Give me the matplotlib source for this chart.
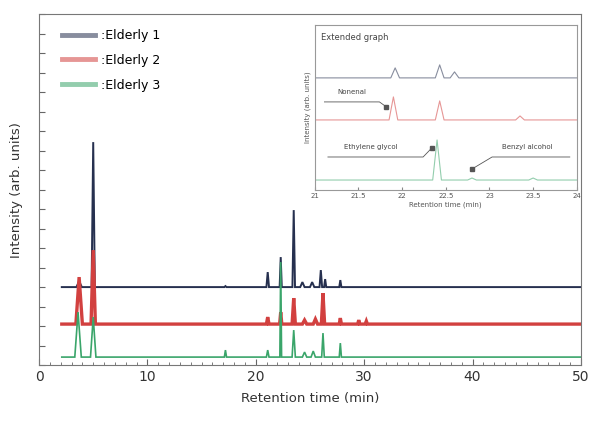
import numpy as np
import matplotlib
matplotlib.use("Agg")
import matplotlib.pyplot as plt
from matplotlib.ticker import MultipleLocator

# ---- data (intensity in arb. units) ----
labels = [":Elderly 1", ":Elderly 2", ":Elderly 3"]
colors = ["#26304f", "#d2403f", "#3aa56a"]
baselines = [78, 41, 8]
t_start, t_end = 2.1, 50.0

# main chromatogram peaks: retention time (min), height above baseline, half width (min)
e1_rt = [3.7, 5.0, 17.2, 21.1, 22.3, 23.5, 24.3, 25.2, 26.0, 26.4, 27.8]
e1_h = [6, 145, 1, 15, 30, 77, 5, 5, 17, 8, 7]
e1_w = [0.25, 0.15, 0.1, 0.12, 0.1, 0.12, 0.2, 0.2, 0.12, 0.1, 0.1]

e2_rt = [3.7, 5.0, 21.1, 22.3, 23.5, 24.5, 25.5, 26.2, 27.8, 29.5, 30.2]
e2_h = [47, 74, 7, 12, 26, 4, 5, 31, 6, 4, 3]
e2_w = [0.3, 0.2, 0.12, 0.1, 0.15, 0.2, 0.2, 0.15, 0.1, 0.1, 0.1]

e3_rt = [3.6, 5.0, 17.2, 21.1, 22.3, 23.5, 24.5, 25.3, 26.2, 27.8]
e3_h = [45, 40, 7, 7, 95, 27, 5, 6, 24, 14]
e3_w = [0.3, 0.25, 0.1, 0.12, 0.08, 0.15, 0.2, 0.2, 0.12, 0.1]

# inset ("Extended graph") peaks
in_baselines = [112, 70, 10]
in_start, in_end = 21.0, 24.0
in1_rt = [21.92, 22.43, 22.6]
in1_h = [10, 13, 6]
in2_rt = [21.9, 22.43, 23.35]
in2_h = [23, 19, 4]
in3_rt = [22.4, 22.8, 23.5]
in3_h = [40, 2, 2]
in_w = 0.05

inset_ticks = [21, 21.5, 22, 22.5, 23, 23.5, 24]
inset_ticklabels = ["21", "21.5", "22", "22.5", "23", "23.5", "24"]

# annotations: label, text pos (x, y), underline (x0, x1, y), target (x, y)
ann_labels = ["Nonenal", "Ethylene glycol", "Benzyl alcohol"]
ann_text = [(21.42, 98), (21.64, 43), (23.43, 43)]
ann_line = [(21.11, 21.74, 88), (21.15, 22.24, 33), (23.92, 23.03, 33)]
ann_target = [(21.82, 83), (22.34, 42), (22.8, 21)]


def trace(rt, h, w, base, t0, t1):
    w = np.broadcast_to(w, len(rt))
    xs, ys = [t0], [base]
    for t, hh, ww in sorted(zip(rt, h, w)):
        xs += [t - ww, t, t + ww]
        ys += [base, base + hh, base]
    xs.append(t1)
    ys.append(base)
    return xs, ys


fig = plt.figure(figsize=(5.94, 4.28), dpi=100)
ax = fig.add_axes([0.0657, 0.147, 0.9123, 0.82])

series = [(e1_rt, e1_h, e1_w), (e2_rt, e2_h, e2_w), (e3_rt, e3_h, e3_w)]
widths = [1.4, 2.4, 1.2]
for (rt, h, w), base, c, lab, lw in zip(series, baselines, colors, labels, widths):
    xs, ys = trace(rt, h, w, base, t_start, t_end)
    ax.plot(xs, ys, color=c, lw=lw, label=lab, solid_joinstyle="miter")

ax.set_xlim(0, 50)
ax.set_ylim(0, 351)
ax.xaxis.set_major_locator(MultipleLocator(10))
ax.xaxis.set_minor_locator(MultipleLocator(1))
ax.yaxis.set_major_locator(MultipleLocator(19.5))
ax.set_yticklabels([])
ax.tick_params(direction="in", which="both", colors="#666", labelcolor="#333", labelsize=10)
ax.tick_params(which="major", length=4)
ax.tick_params(which="minor", length=2)
for s in ax.spines.values():
    s.set_color("#777")
ax.set_xlabel("Retention time (min)", fontsize=9.5, color="#333", labelpad=6)
ax.set_ylabel("Intensity (arb. units)", fontsize=9.5, color="#333", labelpad=8)

leg = ax.legend(loc="upper left", bbox_to_anchor=(0.022, 0.99), frameon=False,
                fontsize=9, handlelength=2.6, handletextpad=0.5, labelspacing=0.95)
for l in leg.get_lines():
    l.set_linewidth(3.5)
    l.set_alpha(0.55)

# ---- inset ----
ai = fig.add_axes([0.530, 0.556, 0.441, 0.386])
in_series = [(in1_rt, in1_h), (in2_rt, in2_h), (in3_rt, in3_h)]
for (rt, h), base, c in zip(in_series, in_baselines, colors):
    xs, ys = trace(rt, h, in_w, base, in_start, in_end)
    ai.plot(xs, ys, color=c, lw=0.8, alpha=0.55)
ai.set_xlim(in_start, in_end)
ai.set_ylim(0, 165)
ai.set_xticks(inset_ticks)
ai.set_xticklabels(inset_ticklabels)
ai.set_yticks([])
ai.tick_params(direction="in", labelsize=5, colors="#888", labelcolor="#555", length=2, pad=2)
for s in ai.spines.values():
    s.set_color("#999")
    s.set_linewidth(0.8)
ai.set_xlabel("Retention time (min)", fontsize=5, color="#555", labelpad=2)
ai.set_ylabel("Intensity (arb. units)", fontsize=5, color="#555", labelpad=3)
ai.text(0.025, 0.95, "Extended graph", transform=ai.transAxes, fontsize=6,
        va="top", ha="left", color="#444")

for lab, (tx, ty), (x0, x1, ly), (px, py) in zip(ann_labels, ann_text, ann_line, ann_target):
    ai.text(tx, ty, lab, fontsize=5, ha="center", va="center", color="#444")
    ai.plot([x0, x1, px], [ly, ly, py], color="#555", lw=0.6)
    ai.plot([px], [py], marker="s", ms=2.5, color="#555")

fig.savefig("out.png", dpi=100)
